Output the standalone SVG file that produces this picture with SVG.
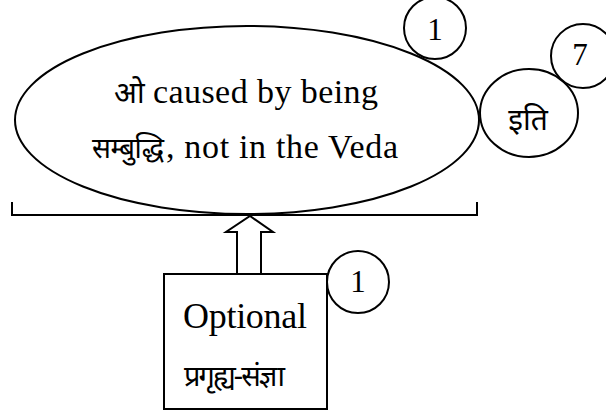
<svg xmlns="http://www.w3.org/2000/svg" width="606" height="416" viewBox="0 0 606 416">
<style>
.s{fill:#fff;stroke:#000;stroke-width:2}
.l{fill:none;stroke:#000;stroke-width:2}
.t{font-family:"Liberation Serif","Noto Sans",serif;fill:#000}
.d{font-family:"Noto Sans","Liberation Serif",serif;fill:#000}
</style>
<rect width="606" height="416" fill="#fff"/>
<g id="main">
<ellipse class="s" cx="247" cy="120" rx="232" ry="94"/>
<text class="d" x="114" y="103" font-size="30">ओ</text>
<text class="t" x="153" y="103" font-size="34" textLength="225">caused by being</text>
<text class="d" x="92" y="158" font-size="28" textLength="72">सम्बुद्धि</text>
<text class="t" x="166" y="158" font-size="34" textLength="232">, not in the Veda</text>
</g>
<g id="num1top">
<circle class="s" cx="435" cy="28" r="31"/>
<text class="t" x="435" y="40" font-size="31" text-anchor="middle">1</text>
</g>
<g id="iti">
<ellipse class="s" cx="529" cy="113" rx="49" ry="44"/>
<text class="d" x="528" y="130" font-size="30" text-anchor="middle">इति</text>
</g>
<g id="num7">
<circle class="s" cx="583" cy="56" r="32"/>
<text class="t" x="580" y="65" font-size="31" text-anchor="middle">7</text>
</g>
<g id="bracket">
<polyline class="l" points="12,202 12,215 477,215 477,202"/>
</g>
<g id="box">
<rect class="s" x="164" y="274" width="163" height="135"/>
<text class="t" x="183" y="328" font-size="36" textLength="124">Optional</text>
<text class="d" x="182" y="386" font-size="29" textLength="101">प्रगृह्य-संज्ञा</text>
</g>
<g id="num1box">
<circle class="s" cx="358" cy="282" r="31"/>
<text class="t" x="358" y="292" font-size="31" text-anchor="middle">1</text>
</g>
<g id="connectors">
<polygon class="s" points="237,274 237,232 226,232 250,216 273,232 261,232 261,274"/>
</g>
</svg>
